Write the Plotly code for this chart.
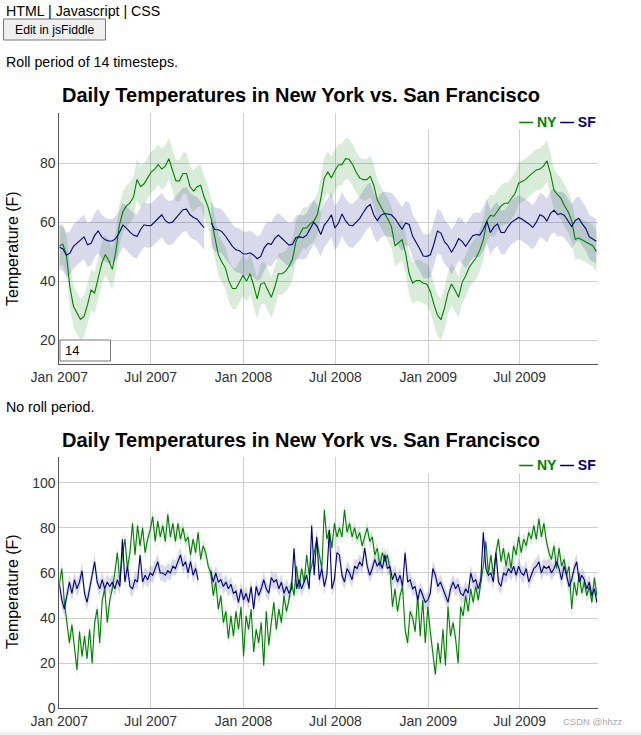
import plotly.graph_objects as go
import pandas as pd

W, H = 641, 735

# ---------------- data ----------------
# 14-timestep rolled series, read weekly from the upper chart
roll_dates = pd.date_range("2007-01-01", periods=153, freq="7D")
ny_roll = [
    52, 52.5, 49, 38, 31.5, 29, 27, 28, 32, 37,
    36, 41, 46, 49, 47, 44, 50, 59, 63.5, 65.5,
    66.5, 68.5, 74.5, 72, 73, 75, 77, 78, 79.5, 78,
    79, 81.5, 78, 74, 74, 76.5, 76.5, 72, 70.5, 72,
    72.5, 68.5, 65.5, 61, 55, 49, 46.5, 44.5, 40, 37.5,
    37.5, 40, 42, 40, 42.5, 38.5, 34, 39, 39.5, 37,
    34.5, 38, 42.5, 42.5, 43.3, 45, 47.5, 53.5, 56, 58,
    58, 59.5, 60.3, 62.5, 68, 75, 77, 75, 77.5, 79.4,
    79.5, 81.5, 81.3, 79.5, 77, 75, 74.4, 74.4, 75.5, 72.5,
    67.5, 65, 63, 61, 58.5, 52, 53, 54, 49.5, 42.5,
    39.3, 40.2, 40.2, 39.3, 39, 36.5, 32.2, 28.5, 26.9, 30.8,
    36, 39, 37, 34.5, 39.5, 41.8, 44.7, 46.3, 48, 50.5,
    54, 60.5, 62.3, 62, 64, 65.5, 66.4, 66.4, 68.1, 69.8,
    73.2, 73.8, 74.5, 75.7, 76.8, 77.7, 78, 79, 80.8, 76.5,
    70.8, 69.2, 68, 65.5, 63.5, 60.5, 54.2, 54.6, 54, 53.4,
    52.8, 52, 50,
]
sf_roll = [
    51.5, 51, 48.8, 49.5, 51.8, 52.8, 54, 55, 52.3, 52.8,
    55.5, 57, 55, 54, 53.6, 53.6, 54.5, 56.5, 59, 58,
    56.6, 55.6, 55.1, 57.5, 59.1, 58.8, 58.9, 60.1, 61.4, 62.5,
    60.5, 59.7, 60, 61.4, 62.9, 64.2, 64.4, 62.5, 61.6, 61,
    59.5, 58.1, None, 59.7, 57.5, 57.4, 56.8, 55.3, 53.6, 51.8,
    50.6, 50.3, 49.3, 49.2, 49.6, 48.8, 47.6, 48.4, 51.3, 52.8,
    52.5, 54.5, 55.6, 54.5, 53.3, 52.2, 52.5, 54.8, 55, 54.7,
    55.6, 58, 60, 58.5, 55.8, 59, 60.5, 62.5, 58, 59.7,
    62.8, 60.5, 59, 58.7, 60, 61.2, 63.2, 65, 66, 62.5,
    60.5, 62.3, 62.9, 62.6, 62.5, 61.2, 59.5, 57.6, 59.7, 59.2,
    55.2, 53.2, 51, 48.5, 48.4, 48.9, 52.5, 57, 56.3, 53.4,
    52, 49.8, 51.8, 54.4, 53.5, 51.8, 53.6, 55.4, 55.8, 55.6,
    57.6, 60.3, 56.5, 58.4, 59.4, 56.5, 56.5, 58.5, 60, 60.8,
    61.6, 61, 60.2, 59.3, 58.2, 60, 62.5, 61.9, 60.4, 63,
    64, 62.6, 62.9, 62.2, 60.4, 58.5, 60.5, 61.3, 59.4, 57.8,
    55, 54.1, 53.5,
]
ny_roll_band = 7.0   # half-width of the shaded error band (F)
sf_roll_band = 7.5

# raw (no roll) series, read every 5 days from the lower chart
raw_dates = pd.date_range("2007-01-01", periods=214, freq="5D")
ny_raw = [
    55, 62, 47, 38, 29, 37, 26, 17, 34, 23,
    32, 22, 35, 20, 38, 44, 29, 48, 53, 38,
    48, 53, 60, 69, 56, 68, 75, 62, 69, 82,
    68, 81, 72, 80, 69, 75, 79, 85, 74, 83,
    76, 81, 74, 86, 76, 82, 74, 82, 75, 80,
    74, 76, 68, 75, 69, 78, 66, 72, 69, 63,
    60, 50, 56, 44, 50, 38, 43, 31, 41, 32,
    43, 35, 45, 23, 41, 35, 44, 25, 35, 29,
    38, 19, 43, 28, 38, 47, 35, 44, 38, 50,
    43, 48, 56, 50, 63, 53, 62, 56, 68, 59,
    63, 69, 75, 68, 62, 88, 75, 79, 71, 82,
    76, 80, 76, 88, 78, 82, 76, 80, 75, 78,
    72, 76, 80, 74, 76, 68, 71, 63, 69, 65,
    68, 62, 45, 53, 43, 50, 54, 35, 29, 43,
    40, 34, 50, 32, 48, 29, 45, 34, 23, 15,
    29, 20, 35, 19, 45, 32, 38, 31, 20, 45,
    41, 50, 43, 53, 47, 54, 48, 56, 63, 74,
    60, 68, 59, 69, 75, 65, 71, 63, 69, 62,
    72, 68, 76, 69, 75, 72, 78, 75, 81, 75,
    84, 76, 82, 74, 69, 66, 72, 62, 71, 63,
    66, 59, 63, 44, 56, 50, 60, 51, 56, 50,
    54, 47, 58, 50,
]
sf_raw = [
    55, 48, 44, 50, 56, 51, 57, 53, 56, 61,
    51, 47, 54, 59, 65, 56, 53, 57, 53, 56,
    54, 56, 53, 57, 54, 75, 56, 63, 54, 53,
    57, 56, 68, 56, 59, 57, 60, 59, 62, 65,
    60, 60, 59, 61, 60, 63, 62, 65, 68, 63,
    65, 60, 65, 59, 62, 57, None, None, None, None,
    61, 56, 60, 56, 57, 54, 56, 53, 55, 51,
    52, 47, 53, 48, 51, 47, 54, 44, 54, 50,
    53, 57, 53, 51, 58, 56, 57, 53, 56, 51,
    54, 51, 53, 71, 53, 57, 53, 56, 59, 53,
    81, 59, 76, 57, 62, 54, 59, 79, 53, 57,
    69, 68, 59, 56, 62, 60, 57, 63, 62, 65,
    63, 71, 63, 59, 62, 66, 63, 65, 62, 68,
    62, 63, 57, 60, 56, 59, 54, 69, 56, 57,
    53, 54, 48, 53, 50, 47, 48, 51, 62, 59,
    54, 56, 53, 50, 47, 53, 56, 53, 55, 51,
    50, 53, 51, 60, 56, 57, 53, 57, 78, 62,
    59, 60, 56, 69, 56, 54, 60, 59, 62, 60,
    63, 59, 63, 60, 59, 62, 56, 59, 62, 63,
    65, 60, 63, 62, 63, 60, 62, 65, 62, 57,
    63, 59, 54, 57, 62, 65, 56, 59, 57, 53,
    56, 50, 53, 47,
]
ny_raw_band = 3.0
sf_raw_band = 3.5

tick_dates = ["2007-01-01", "2007-07-01", "2008-01-01", "2008-07-01",
              "2009-01-01", "2009-07-01"]
tick_labels = ["Jan 2007", "Jul 2007", "Jan 2008", "Jul 2008",
               "Jan 2009", "Jul 2009"]
x_range = ["2007-01-01", "2009-12-02 14:00"]
top_y_ticks = [20, 40, 60, 80]
bottom_y_ticks = [0, 20, 40, 60, 80, 100]
top_y_range = [11.8, 96.9]
bottom_y_range = [0, 111.3]

TITLE = "Daily Temperatures in New York vs. San Francisco"
NY_COLOR = "#008000"
SF_COLOR = "#000080"
NY_FILL = "rgba(0,128,0,0.15)"
SF_FILL = "rgba(0,0,128,0.15)"
FONT = "Liberation Sans, Arial, sans-serif"


def px(x):
    return x / W


def py(y):
    return 1 - y / H


def segments(xs, ys):
    seg = []
    for x, y in zip(xs, ys):
        if y is None:
            if seg:
                yield seg
            seg = []
        else:
            seg.append((x, y))
    if seg:
        yield seg


fig = go.Figure()


def add_band(xs, ys, half, color, xa, ya):
    for seg in segments(list(xs), ys):
        sx = [p[0] for p in seg]
        sy = [p[1] for p in seg]
        up = [v + half for v in sy]
        lo = [v - half for v in sy]
        fig.add_trace(go.Scatter(
            x=sx + sx[::-1], y=up + lo[::-1], fill="toself",
            fillcolor=color, line=dict(width=0), mode="lines",
            hoverinfo="skip", showlegend=False, xaxis=xa, yaxis=ya))


def add_line(xs, ys, color, xa, ya):
    fig.add_trace(go.Scatter(
        x=list(xs), y=ys, mode="lines", connectgaps=False,
        line=dict(color=color, width=1.1), showlegend=False,
        xaxis=xa, yaxis=ya))


# upper chart (rolled)
add_band(roll_dates, ny_roll, ny_roll_band, NY_FILL, "x", "y")
add_band(roll_dates, sf_roll, sf_roll_band, SF_FILL, "x", "y")
add_line(roll_dates, ny_roll, NY_COLOR, "x", "y")
add_line(roll_dates, sf_roll, SF_COLOR, "x", "y")
# lower chart (raw)
add_band(raw_dates, ny_raw, ny_raw_band, NY_FILL, "x2", "y2")
add_band(raw_dates, sf_raw, sf_raw_band, SF_FILL, "x2", "y2")
add_line(raw_dates, ny_raw, NY_COLOR, "x2", "y2")
add_line(raw_dates, sf_raw, SF_COLOR, "x2", "y2")

x_dom = [px(59.3), px(597.7)]
axis_common = dict(showgrid=True, gridcolor="#cfcfcf", gridwidth=1,
                   showline=True, linecolor="#555", linewidth=1,
                   zeroline=False, ticks="", fixedrange=True,
                   automargin=False,
                   tickfont=dict(family=FONT, size=14, color="#333"))

fig.update_layout(
    template="none",
    width=W, height=H, autosize=False,
    margin=dict(l=0, r=0, t=0, b=0, pad=0, autoexpand=False),
    paper_bgcolor="white", plot_bgcolor="white",
    font=dict(family=FONT, color="#000"),
    showlegend=False,
    xaxis=dict(domain=x_dom, anchor="y", type="date", range=x_range,
               tickvals=tick_dates, ticktext=tick_labels, **axis_common),
    yaxis=dict(domain=[py(364.3), py(113.3)], anchor="x",
               range=top_y_range, tickvals=top_y_ticks, **axis_common),
    xaxis2=dict(domain=x_dom, anchor="y2", type="date", range=x_range,
                tickvals=tick_dates, ticktext=tick_labels, **axis_common),
    yaxis2=dict(domain=[py(708.3), py(457.3)], anchor="x2",
                range=bottom_y_range, tickvals=bottom_y_ticks, **axis_common),
)

shapes = []
# legend backgrounds (cover gridlines like dygraphs' legend div)
for y0, y1 in [(113.3, 129.5), (457.3, 473.5)]:
    shapes.append(dict(type="rect", xref="paper", yref="paper",
                       x0=px(350), x1=px(597.7), y0=py(y1), y1=py(y0),
                       fillcolor="white", line=dict(width=0), layer="above"))
# roll period input box
shapes.append(dict(type="rect", xref="paper", yref="paper",
                   x0=px(60), x1=px(110.5), y0=py(361), y1=py(340),
                   fillcolor="white", line=dict(color="#767676", width=1),
                   layer="above"))
# jsFiddle button
shapes.append(dict(type="rect", xref="paper", yref="paper",
                   x0=px(3.5), x1=px(105.5), y0=py(40), y1=py(19),
                   fillcolor="#efefef", line=dict(color="#767676", width=1),
                   layer="above"))
# page bottom strip
shapes.append(dict(type="rect", xref="paper", yref="paper",
                   x0=0, x1=1, y0=0, y1=py(732),
                   fillcolor="#f0f0f0", line=dict(width=0), layer="above"))
fig.update_layout(shapes=shapes)

legend_text = ("<b><span style='color:%s'>\u2014 NY</span> "
               "<span style='color:%s'>\u2014 SF</span></b>" % (NY_COLOR, SF_COLOR))

ann = []


def text(x, y, s, size, color="#000", xanchor="left", angle=0, bold=False):
    ann.append(dict(x=px(x), y=py(y), xref="paper", yref="paper",
                    text=("<b>%s</b>" % s) if bold else s, showarrow=False,
                    xanchor=xanchor, yanchor="middle", textangle=angle,
                    font=dict(family=FONT, size=size, color=color)))


text(3.5, 11, "HTML | Javascript | CSS", 14.2)
text(54.5, 29.5, "Edit in jsFiddle", 12.2, xanchor="center")
text(3.5, 62, "Roll period of 14 timesteps.", 14.2)
text(3.5, 407, "No roll period.", 14.2)
text(301, 95, TITLE, 20, bold=True, xanchor="center")
text(301, 440, TITLE, 20, bold=True, xanchor="center")
text(12, 249, "Temperature (F)", 16, xanchor="center", angle=-90)
text(12, 592, "Temperature (F)", 16, xanchor="center", angle=-90)
text(597.7, 121.7, legend_text, 14, xanchor="right")
text(597.7, 465.3, legend_text, 14, xanchor="right")
text(63, 350.5, "14", 13)
text(625, 721.5, "CSDN @hhzz", 9.5, color="#aaaaaa", xanchor="right")
fig.update_layout(annotations=ann)

fig.write_html(
    "out.html",
    config={"displayModeBar": False},
    post_script=("document.documentElement.style.margin='0';"
                 "document.body.style.margin='0';"
                 "document.body.style.overflow='hidden';"),
)
